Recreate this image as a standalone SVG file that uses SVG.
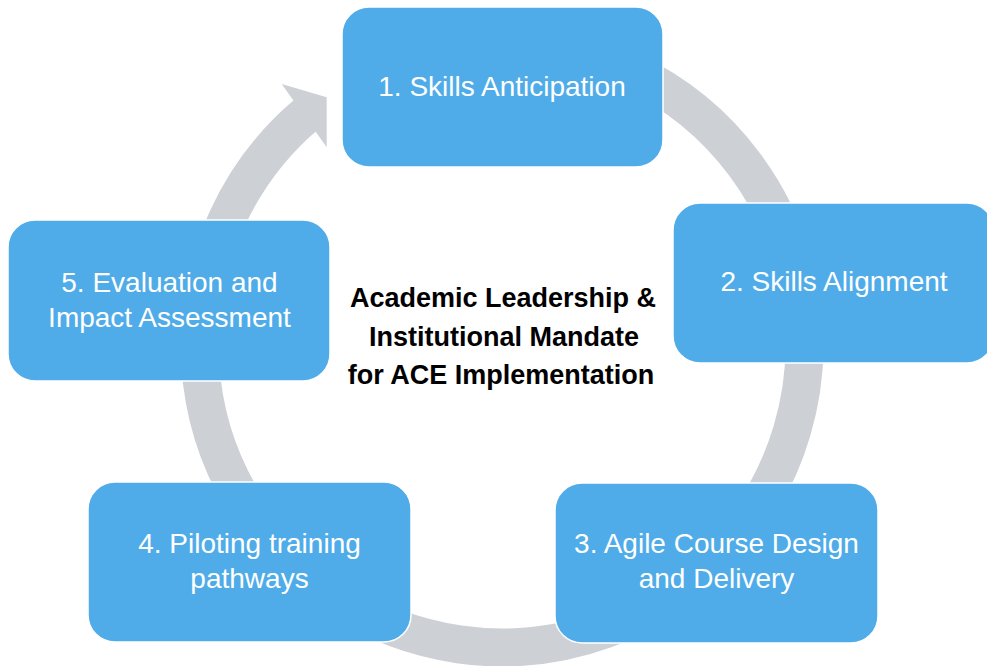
<svg xmlns="http://www.w3.org/2000/svg" width="987" height="666" viewBox="0 0 987 666">
<style>
.ring{fill:none;stroke:#CDD1D6;stroke-width:38}
.head{fill:#CDD1D6}
.box{fill:#4FACE8;stroke:#FFFFFF;stroke-width:1.5}
.lbl{font-family:"Liberation Sans",Arial,sans-serif;font-size:28px;fill:#FFFFFF;text-anchor:middle}
.ctr{font-family:"Liberation Sans",Arial,sans-serif;font-size:27px;font-weight:bold;fill:#000000;text-anchor:middle}
</style>
<rect width="987" height="666" fill="#FFFFFF"/>
<g id="connectors">
<path class="ring" d="M 502 42.6 A 302.4 302.4 0 1 1 307.6 113.4"/>
<polygon class="head" points="281.7,84 326.7,97.3 326.7,147.3"/>
</g>
<g id="node1">
<rect class="box" x="342" y="7" width="321" height="160" rx="27"/>
<text class="lbl" x="502" y="96">1. Skills Anticipation</text>
</g>
<g id="node2">
<rect class="box" x="673" y="203" width="321" height="160" rx="27"/>
<text class="lbl" x="834" y="291">2. Skills Alignment</text>
</g>
<g id="node3">
<rect class="box" x="555" y="483" width="323" height="160" rx="27"/>
<text class="lbl" x="716.5" y="553">3. Agile Course Design</text>
<text class="lbl" x="716.5" y="588">and Delivery</text>
</g>
<g id="node4">
<rect class="box" x="88" y="482" width="323" height="160" rx="27"/>
<text class="lbl" x="249.5" y="553">4. Piloting training</text>
<text class="lbl" x="249.5" y="588">pathways</text>
</g>
<g id="node5">
<rect class="box" x="8" y="220" width="322" height="161" rx="27"/>
<text class="lbl" x="169.5" y="292">5. Evaluation and</text>
<text class="lbl" x="169.5" y="327">Impact Assessment</text>
</g>
<g id="center">
<text class="ctr" x="503" y="307">Academic Leadership &amp;</text>
<text class="ctr" x="504" y="346">Institutional Mandate</text>
<text class="ctr" x="501" y="384">for ACE Implementation</text>
</g>
</svg>
